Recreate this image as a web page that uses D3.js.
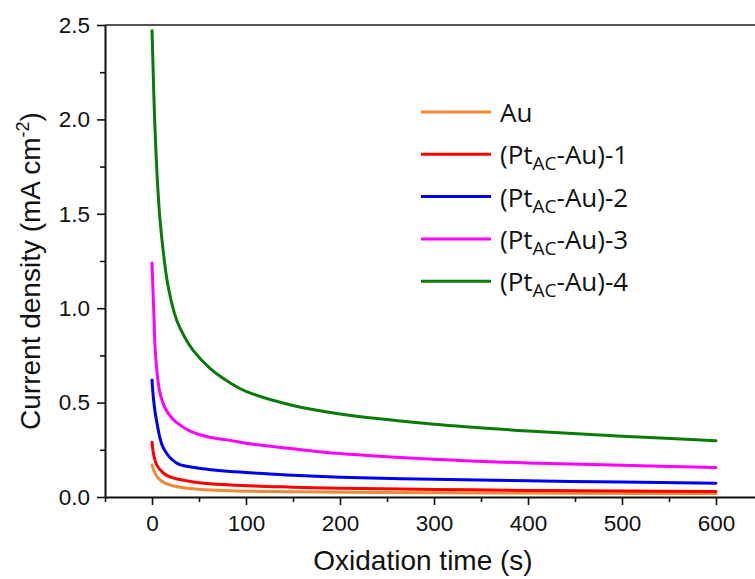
<!DOCTYPE html>
<html><head><meta charset="utf-8">
<script src="https://cdn.jsdelivr.net/npm/d3@7"></script>
<style>body{margin:0;background:#fff}svg{display:block}</style>
</head><body>
<svg id="chart" width="755" height="579"></svg>
<script>
const seriesNames = ["Au", "(Pt_AC-Au)-1", "(Pt_AC-Au)-2", "(Pt_AC-Au)-3", "(Pt_AC-Au)-4"];
const seriesColors = ["#EE8A38", "#FF0000", "#0000F0", "#FF00FF", "#0A7A0A"];
const tAu = [0, 2, 5, 10, 20, 40, 83, 150, 300, 450, 600];
const vAu = [0.17, 0.14, 0.11, 0.085, 0.062, 0.045, 0.033, 0.028, 0.023, 0.02, 0.018];
const tPt1 = [0, 2, 5, 12, 20, 44, 83, 150, 200, 300, 400, 500, 600];
const vPt1 = [0.29, 0.22, 0.17, 0.127, 0.105, 0.08, 0.064, 0.052, 0.046, 0.04, 0.035, 0.032, 0.029];
const tPt2 = [0, 2, 5, 12, 26, 40, 60, 83, 100, 150, 200, 300, 400, 500, 600];
const vPt2 = [0.62, 0.50, 0.40, 0.26, 0.18, 0.16, 0.146, 0.135, 0.13, 0.115, 0.105, 0.094, 0.086, 0.079, 0.073];
const tPt3 = [0, 1, 2, 3.2, 5, 8.5, 14, 20, 26, 40, 60, 83, 100, 150, 200, 300, 400, 500, 600];
const vPt3 = [1.24, 1.10, 0.97, 0.80, 0.68, 0.55, 0.47, 0.425, 0.395, 0.35, 0.318, 0.30, 0.285, 0.255, 0.23, 0.20, 0.18, 0.168, 0.156];
const tPt4 = [0, 1, 2, 4, 6, 8.5, 12, 17, 26, 35, 44, 62, 83, 100, 150, 200, 250, 300, 400, 500, 600];
const vPt4 = [2.47, 2.30, 2.12, 1.85, 1.65, 1.47, 1.30, 1.12, 0.94, 0.845, 0.775, 0.68, 0.605, 0.56, 0.485, 0.44, 0.41, 0.385, 0.35, 0.322, 0.298];
const xTicks = [0, 100, 200, 300, 400, 500, 600];
const yTicks = [0.0, 0.5, 1.0, 1.5, 2.0, 2.5];
const xMinor = [-50, 50, 150, 250, 350, 450, 550, 650];
const yMinor = [0.25, 0.75, 1.25, 1.75, 2.25];

const allT = [tAu, tPt1, tPt2, tPt3, tPt4];
const allV = [vAu, vPt1, vPt2, vPt3, vPt4];

const svg = d3.select("#chart");
const x = d3.scaleLinear().domain([-50, 650]).range([105, 763]);
const y = d3.scaleLinear().domain([0, 2.5]).range([497, 25]);
const font = "'Liberation Sans', Arial, sans-serif";

// top frame line
svg.append("line").attr("x1", x(-50)).attr("x2", x(650)).attr("y1", y(2.5)).attr("y2", y(2.5))
  .attr("stroke", "#555").attr("stroke-width", 2);

// curves
const line = d3.line().x(d => x(d[0])).y(d => y(d[1])).curve(d3.curveCatmullRom.alpha(0.5));
allT.forEach((ts, i) => {
  const pts = ts.map((t, j) => [t, allV[i][j]]);
  svg.append("path").attr("d", line(pts)).attr("fill", "none")
    .attr("stroke", seriesColors[i]).attr("stroke-width", 3).attr("stroke-linecap", "round");
});

// x axis
svg.append("g").attr("transform", `translate(0,${y(0)})`)
  .call(d3.axisBottom(x).tickValues(xTicks).tickFormat(d3.format("d")).tickSize(8).tickSizeOuter(0).tickPadding(10));
svg.append("g").attr("transform", `translate(0,${y(0)})`)
  .call(d3.axisBottom(x).tickValues(xMinor).tickFormat("").tickSize(5).tickSizeOuter(0))
  .select(".domain").remove();
// y axis
svg.append("g").attr("transform", `translate(${x(-50)},0)`)
  .call(d3.axisLeft(y).tickValues(yTicks).tickFormat(d3.format(".1f")).tickSize(8).tickSizeOuter(0).tickPadding(7));
svg.append("g").attr("transform", `translate(${x(-50)},0)`)
  .call(d3.axisLeft(y).tickValues(yMinor).tickFormat("").tickSize(5).tickSizeOuter(0))
  .select(".domain").remove();

svg.selectAll(".domain").attr("stroke", "#111").attr("stroke-width", 2);
svg.selectAll(".tick line").attr("stroke", "#111").attr("stroke-width", 1.6);
svg.selectAll(".tick text").attr("font-family", font).attr("font-size", 22.5).attr("fill", "#111");

// axis titles
svg.append("text").attr("x", 423).attr("y", 570).attr("text-anchor", "middle")
  .attr("font-family", font).attr("font-size", 28).attr("fill", "#111").text("Oxidation time (s)");
const yt = svg.append("text").attr("transform", `translate(40,${(y(0) + y(2.5)) / 2 + 10}) rotate(-90)`)
  .attr("text-anchor", "middle").attr("font-family", font).attr("font-size", 28).attr("fill", "#111");
yt.append("tspan").text("Current density (mA cm");
yt.append("tspan").attr("dy", -11).attr("font-size", 18).text("-2");
yt.append("tspan").attr("dy", 11).text(")");

// legend
const lgFont = "'Open Sans', 'Noto Sans', sans-serif";
seriesNames.forEach((name, i) => {
  const yy = 112 + i * 42.3;
  svg.append("line").attr("x1", 421).attr("x2", 491).attr("y1", yy).attr("y2", yy)
    .attr("stroke", seriesColors[i]).attr("stroke-width", 3);
  const t = svg.append("text").attr("x", 500).attr("y", yy + 10)
    .attr("font-family", lgFont).attr("font-size", 26).attr("fill", "#111");
  const parts = name.split("_");
  if (parts.length === 1) { t.text(name); }
  else {
    const rest = parts[1].split("-");
    t.append("tspan").text(parts[0]);
    t.append("tspan").attr("dy", 6).attr("font-size", 19).text(rest[0]);
    t.append("tspan").attr("dy", -6).text("-" + rest.slice(1).join("-"));
  }
});
</script>
</body></html>
